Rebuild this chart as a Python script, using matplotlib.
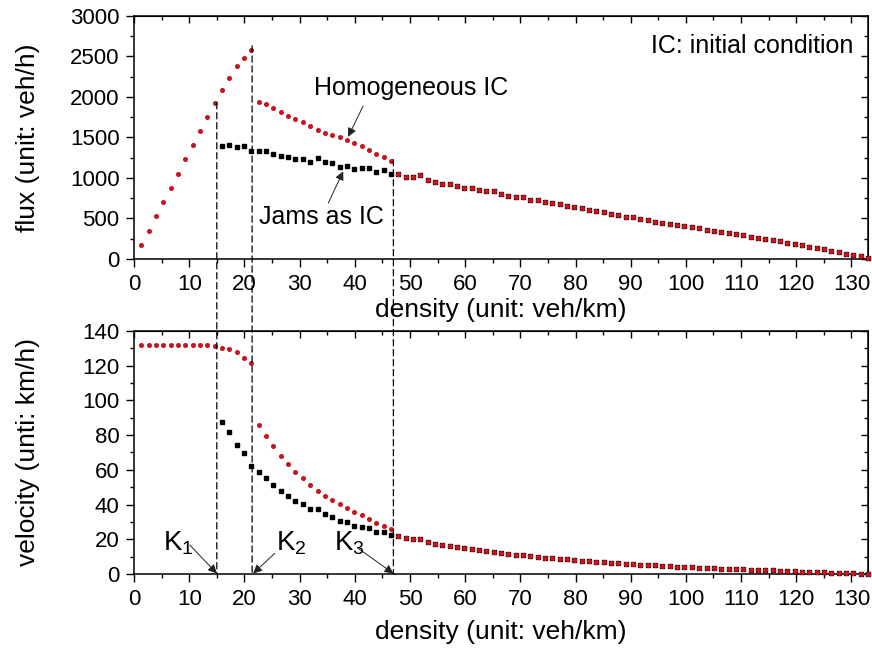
import numpy as np
import matplotlib
matplotlib.use("Agg")
import matplotlib.pyplot as plt
from matplotlib.patches import ConnectionPatch
from matplotlib.ticker import MultipleLocator

plt.rcParams['font.family'] = ['Liberation Sans', 'DejaVu Sans']
plt.rcParams['mathtext.fontset'] = 'custom'
plt.rcParams['mathtext.rm'] = 'Liberation Sans'

# density grid: 100 sites, step 1.33 veh/km
density = 1.33 * np.arange(1, 101)

# velocity (km/h), homogeneous IC, sites 1..35 (before K3)
v_homo = [132.0, 132.0, 132.0, 132.0, 132.0, 132.0, 132.0, 131.9, 131.8, 131.7, 131.5,
          130.4, 129.4, 127.7, 124.2, 121.4,
          85.8, 79.7, 73.7, 68.2, 63.4, 58.9, 55.1, 51.3, 48.0, 45.1,
          42.6, 40.3, 38.2, 35.9, 33.8, 31.7, 29.6, 27.8, 26.1]

# velocity (km/h), jams as IC, sites 12..35
v_jam = [87.7, 81.6, 74.1, 69.9, 62.4, 58.9, 55.5, 51.5, 48.0, 45.1, 42.2, 40.3,
         37.4, 37.3, 34.6, 33.0, 30.4, 29.8, 27.8, 27.2, 26.3, 24.4, 24.2, 22.5]

# flux (veh/h) shared by both ICs, sites 36..100 (after K3)
q_tail = [1049, 1012, 1012, 1037, 970, 954, 929, 925, 896, 880, 876, 851, 834, 834,
          805, 772, 764, 764, 731, 731, 706, 690, 677, 657, 640, 623, 607, 598, 574,
          557, 545, 524, 516, 496, 483, 462, 442, 434, 421, 405, 390, 376, 362, 350,
          333, 318, 306, 293, 277, 262, 248, 235, 218, 200, 186, 170, 152, 135, 118,
          100, 84, 66, 50, 33, 16]

# critical densities
k1, k2, k3 = 15.0, 21.4, 47.0

RED = '#c8141e'

d_homo = density[:35]
d_jam = density[11:35]
d_tail = density[35:]
q_homo = d_homo * np.array(v_homo)
q_jam = d_jam * np.array(v_jam)
v_tail = np.array(q_tail) / d_tail

fig = plt.figure(figsize=(8.72, 6.49), dpi=100)
ax1 = fig.add_axes([0.1537, 0.601, 0.8417, 0.3744])
ax2 = fig.add_axes([0.1537, 0.1156, 0.8417, 0.3744])

mk_red = dict(ls='none', marker='o', ms=2.6, color=RED, mec=RED, clip_on=False, zorder=3)
mk_blk = dict(ls='none', marker='s', ms=2.2, color='black', clip_on=False, zorder=2)

ax1.plot(d_jam, q_jam, **mk_blk)
ax1.plot(d_tail, q_tail, **mk_blk)
ax1.plot(d_homo, q_homo, **mk_red)
ax1.plot(d_tail, q_tail, **mk_red)

ax2.plot(d_jam, v_jam, **mk_blk)
ax2.plot(d_tail, v_tail, **mk_blk)
ax2.plot(d_homo, v_homo, **mk_red)
ax2.plot(d_tail, v_tail, **mk_red)

for ax in (ax1, ax2):
    ax.set_xlim(0, 133)
    ax.xaxis.set_major_locator(MultipleLocator(10))
    ax.xaxis.set_minor_locator(MultipleLocator(5))
    ax.tick_params(which='both', direction='out', top=False, right=False, labelsize=16)
    ax.tick_params(which='major', length=5.5, width=1, pad=5)
    ax.tick_params(which='minor', length=3, width=1)
    for s in ax.spines.values():
        s.set_linewidth(1.1)
    # mirrored ticks pointing inward on top and right
    sec_x = ax.secondary_xaxis('top')
    sec_x.xaxis.set_major_locator(MultipleLocator(10))
    sec_x.xaxis.set_minor_locator(MultipleLocator(5))
    sec_x.tick_params(which='both', direction='in', labeltop=False)
    sec_x.tick_params(which='major', length=5, width=1)
    sec_x.tick_params(which='minor', length=3, width=1)
    sec_y = ax.secondary_yaxis('right')
    sec_y.tick_params(which='both', direction='in', labelright=False)
    sec_y.tick_params(which='major', length=5, width=1)
    sec_y.tick_params(which='minor', length=3, width=1)
    ax._sec_y = sec_y

ax1.set_ylim(0, 3000)
ax1.yaxis.set_major_locator(MultipleLocator(500))
ax1.yaxis.set_minor_locator(MultipleLocator(250))
ax1._sec_y.yaxis.set_major_locator(MultipleLocator(500))
ax1._sec_y.yaxis.set_minor_locator(MultipleLocator(250))

ax2.set_ylim(0, 140)
ax2.yaxis.set_major_locator(MultipleLocator(20))
ax2.yaxis.set_minor_locator(MultipleLocator(10))
ax2._sec_y.yaxis.set_major_locator(MultipleLocator(20))
ax2._sec_y.yaxis.set_minor_locator(MultipleLocator(10))

ax1.set_xlabel('density (unit: veh/km)', fontsize=19)
ax1.set_ylabel('flux (unit: veh/h)', fontsize=19)
ax2.set_xlabel('density (unit: veh/km)', fontsize=19)
ax2.set_ylabel('velocity (unti: km/h)', fontsize=19)
ax1.xaxis.set_label_coords(0.5, -0.16)
ax2.xaxis.set_label_coords(0.5, -0.19)
ax1.yaxis.set_label_coords(-0.128, 0.5)
ax2.yaxis.set_label_coords(-0.128, 0.5)

# text annotations, top panel
ax1.text(130.3, 2630, 'IC: initial condition', fontsize=18, ha='right', va='center')
ax1.text(50.3, 2115, 'Homogeneous IC', fontsize=18, ha='center', va='center')
ax1.text(34.0, 524, 'Jams as IC', fontsize=18, ha='center', va='center')

arrow = dict(arrowstyle='-|>', color='#222222', lw=0.7, mutation_scale=13, shrinkA=0, shrinkB=0)
ax1.annotate('', xy=(38.8, 1508), xytext=(41.5, 1887), arrowprops=arrow)
ax1.annotate('', xy=(37.9, 1082), xytext=(35.2, 690), arrowprops=arrow)

# K labels, bottom panel
ax2.text(5.2, 17.9, r'$\mathregular{K_1}$', fontsize=20, ha='left', va='center')
ax2.text(25.8, 17.9, r'$\mathregular{K_2}$', fontsize=20, ha='left', va='center')
ax2.text(36.3, 17.9, r'$\mathregular{K_3}$', fontsize=20, ha='left', va='center')
ax2.annotate('', xy=(15.0, 0.3), xytext=(10.1, 16.7), arrowprops=arrow)
ax2.annotate('', xy=(21.6, 0.3), xytext=(25.5, 11.9), arrowprops=arrow)
ax2.annotate('', xy=(47.0, 0.3), xytext=(40.6, 14.8), arrowprops=arrow)

# dashed vertical guides running through both panels
for kx, top in [(k1, 1930), (k2, 2630), (k3, 1227)]:
    con = ConnectionPatch(xyA=(kx, top), coordsA='data', axesA=ax1,
                          xyB=(kx, 0), coordsB='data', axesB=ax2,
                          color='black', lw=0.9, linestyle=(0, (5, 3)), zorder=1)
    fig.add_artist(con)

fig.savefig('out.png', dpi=100)
